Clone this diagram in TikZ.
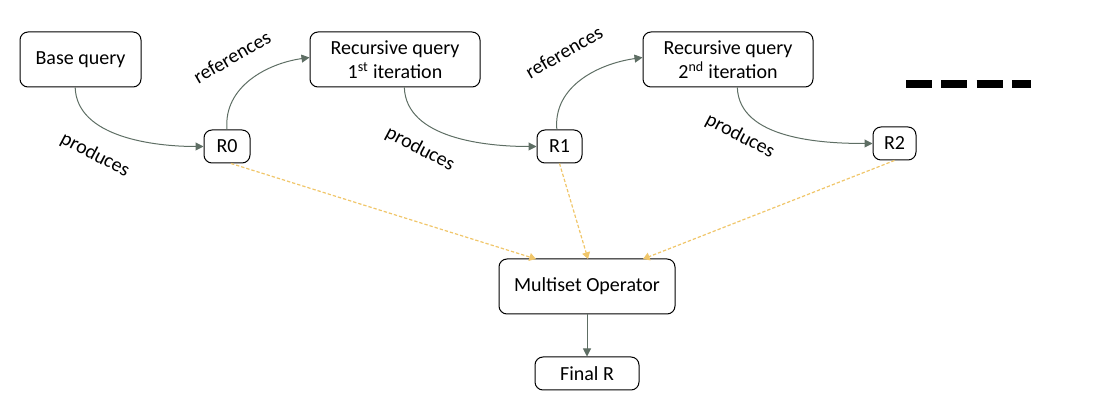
\documentclass[tikz,border=0pt]{standalone}
\usepackage{fontspec}
\setmainfont{Carlito}
\usetikzlibrary{arrows.meta}
\definecolor{arrowgray}{HTML}{5E6E64}
\definecolor{dashyellow}{HTML}{F0C66A}
\begin{document}
\begin{tikzpicture}[x=0.75pt,y=-0.75pt,
  box/.style={draw, rounded corners=6pt, line width=0.75pt, inner sep=0pt, align=center,
    font=\fontsize{15}{18}\selectfont},
  lbl/.style={font=\fontsize{15}{18}\selectfont, inner sep=0pt},
  flow/.style={draw=arrowgray, line width=0.75pt, -{Triangle[width=6pt,length=6pt]}},
  feed/.style={draw=dashyellow, line width=0.9pt, dash pattern=on 2.5pt off 1.5pt,
    -{Triangle[width=6pt,length=5pt]}}]
\useasboundingbox (0,0) rectangle (1093,409);

\node[box, minimum width=90.75pt, minimum height=41.25pt] (B) at (80.5,59.5) {Base query};
\node[box, minimum width=34.5pt, minimum height=24.75pt] (R0) at (227,146.5) {R0};
\node[box, minimum width=127.5pt, minimum height=41.25pt] (Q1) at (395,59.5) {Recursive query\\1\textsuperscript{st} iteration};
\node[box, minimum width=33.75pt, minimum height=24.75pt] (R1) at (559.5,146.5) {R1};
\node[box, minimum width=127.5pt, minimum height=41.25pt] (Q2) at (728,59.5) {Recursive query\\2\textsuperscript{nd} iteration};
\node[box, minimum width=32.25pt, minimum height=24.75pt] (R2) at (894.5,143.5) {R2};
\node[box, minimum width=132pt, minimum height=41.25pt] (M) at (587,286.5) {Multiset Operator};
\node[box, minimum width=78pt, minimum height=24.75pt] (F) at (587,373.5) {Final R};

% produces
\draw[flow] ([xshift=-4pt]B.south) to[out=-88, in=180, looseness=0.9] (R0.west);
\draw[flow] ([xshift=7pt]Q1.south) to[out=-88, in=180, looseness=0.9] (R1.west);
\draw[flow] ([xshift=7pt]Q2.south) to[out=-88, in=180, looseness=0.9] (R2.west);
\node[lbl, rotate=-28] (p1) at (95,155) {produces};
\node[lbl, rotate=-28] (p2) at (420,149) {produces};
\node[lbl, rotate=-28] (p3) at (740,136) {produces};

% references
\draw[flow] (R0.north) to[out=95, in=188, looseness=1] ([yshift=1.5pt]Q1.west);
\draw[flow] ([xshift=-2pt]R1.north) to[out=95, in=188, looseness=1] ([yshift=1.5pt]Q2.west);
\node[lbl, rotate=30] (r1) at (232,57) {references};
\node[lbl, rotate=30] (r2) at (564,52) {references};

% feeds into multiset
\coordinate (m1) at (536,259);
\coordinate (m2) at (588,259);
\coordinate (m3) at (643,259);
\draw[feed] ([xshift=3pt]R0.south) -- (m1);
\draw[feed] (R1.south) -- (m2);
\draw[feed] (R2.south) -- (m3);

\draw[flow] (M.south) -- (F.north);

% continuation dashes
\coordinate (d1) at (906,84);
\coordinate (d2) at (1031,84);
\draw[line width=6.4pt, dash pattern=on 19.5pt off 7pt] (d1) -- (d2);
\end{tikzpicture}
\end{document}
